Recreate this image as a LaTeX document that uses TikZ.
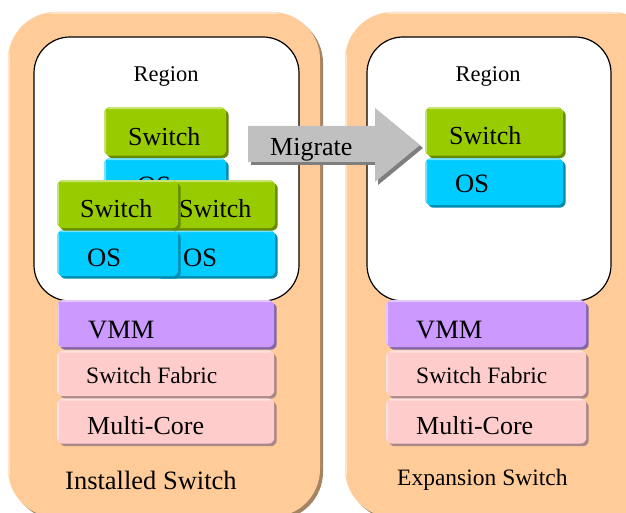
\documentclass[tikz,border=0pt]{standalone}
\usepackage{fontspec}
\setmainfont{Liberation Serif}
\newfontfamily\tmsfont{Liberation Serif}
\usetikzlibrary{shadows}

\definecolor{casefill}{HTML}{FFCC99}
\definecolor{caseshade}{HTML}{A58462}
\definecolor{vmmfill}{HTML}{CC99FF}
\definecolor{vmmshade}{HTML}{8366A8}
\definecolor{hwfill}{HTML}{FFCCCC}
\definecolor{hwshade}{HTML}{A88888}
\definecolor{swfill}{HTML}{99CC00}
\definecolor{swshade}{HTML}{678A00}
\definecolor{osfill}{HTML}{00CCFF}
\definecolor{osshade}{HTML}{008CB0}
\definecolor{arrowfill}{HTML}{C0C0C0}
\definecolor{arrowshade}{HTML}{7E7E7E}

\newcommand\fsz[1]{\tmsfont\fontsize{#1}{#1}\selectfont}

\tikzset{
  bevel/.style 2 args={path picture={
      \fill[#1!55!white] (path picture bounding box.north west) rectangle
        ([yshift=-#2]path picture bounding box.north east);
      \fill[#1!55!white] (path picture bounding box.north west) rectangle
        ([xshift=#2]path picture bounding box.south west);
    }},
  slab/.style 2 args={fill=#1, rounded corners=6pt, inner sep=0pt,
    anchor=north west,
    drop shadow={shadow xshift=2.5pt, shadow yshift=-2.5pt, opacity=1, fill=#2},
    bevel={#1}{2pt}},
  swbox/.style={slab={swfill}{swshade}},
  osbox/.style={slab={osfill}{osshade}},
  vmmbox/.style={slab={vmmfill}{vmmshade}},
  hwbox/.style={slab={hwfill}{hwshade}},
  region/.style={draw=black, line width=1.2pt, fill=white, rounded corners=36pt},
  casebox/.style={fill=casefill, rounded corners=48pt,
    drop shadow={shadow xshift=3pt, shadow yshift=-3pt, opacity=1, fill=caseshade},
    bevel={casefill}{2pt}},
  lbl/.style={inner sep=0pt, anchor=base west, text=black},
}

\begin{document}
\begin{tikzpicture}[x=1pt,y=-1pt]
  \useasboundingbox (0,0) rectangle (626,513);
  \clip (0,0) rectangle (626,513);
  \fill[white] (0,0) rectangle (626,513);

  % the two switch cases
  \path[casebox] (8,12) rectangle (320,517);
  \path[casebox] (345,12) rectangle (660,517);

  % regions
  \path[region] (34,37) rectangle (299,301);
  \path[region] (367,37) rectangle (611,301);
  \node[inner sep=0pt, anchor=base, font=\fsz{22.5}] (regL) at (166,82) {Region};
  \node[inner sep=0pt, anchor=base, font=\fsz{22.5}] (regR) at (488,82) {Region};

  % installed switch: virtual switch stacks
  \node[osbox, minimum width=122pt, minimum height=47pt] (osA) at (104,158) {};
  \node[lbl, font=\fsz{26.5}] (osAt) at (137,194) {OS};
  \node[swbox, minimum width=122pt, minimum height=48.5pt] (swA) at (104,107) {};
  \node[lbl, font=\fsz{26}] (swAt) at (128,146) {Switch};

  \node[osbox, minimum width=121pt, minimum height=46pt] (osB) at (154,230) {};
  \node[lbl, font=\fsz{26.5}] (osBt) at (183,266) {OS};
  \node[swbox, minimum width=121pt, minimum height=48pt] (swB) at (154,180) {};
  \node[lbl, font=\fsz{26}] (swBt) at (179,218) {Switch};

  \node[osbox, minimum width=121pt, minimum height=46pt] (osC) at (57,230) {};
  \node[lbl, font=\fsz{26.5}] (osCt) at (87,266) {OS};
  \node[swbox, minimum width=121pt, minimum height=48pt] (swC) at (57,180) {};
  \node[lbl, font=\fsz{26}] (swCt) at (80,218) {Switch};

  % expansion switch: migrated stack
  \node[osbox, minimum width=138pt, minimum height=47pt] (osD) at (425,158) {};
  \node[lbl, font=\fsz{26.5}] (osDt) at (455,193) {OS};
  \node[swbox, minimum width=138pt, minimum height=48.5pt] (swD) at (425,107) {};
  \node[lbl, font=\fsz{26}] (swDt) at (449,145) {Switch};

  % lower layers, installed switch
  \node[vmmbox, minimum width=217pt, minimum height=47pt] (vmmL) at (57,300) {};
  \node[lbl, font=\fsz{26.5}] (vmmLt) at (88,338) {VMM};
  \node[hwbox, minimum width=217pt, minimum height=45.5pt] (fabL) at (57,350.5) {};
  \node[lbl, font=\fsz{23.5}] (fabLt) at (86,383) {Switch Fabric};
  \node[hwbox, minimum width=217pt, minimum height=45pt] (mcL) at (57,398.5) {};
  \node[lbl, font=\fsz{26}] (mcLt) at (87,434) {Multi-Core};

  % lower layers, expansion switch
  \node[vmmbox, minimum width=200pt, minimum height=47pt] (vmmR) at (386,300) {};
  \node[lbl, font=\fsz{26.5}] (vmmRt) at (416,338) {VMM};
  \node[hwbox, minimum width=200pt, minimum height=45.5pt] (fabR) at (386,350.5) {};
  \node[lbl, font=\fsz{23.5}] (fabRt) at (416,383) {Switch Fabric};
  \node[hwbox, minimum width=200pt, minimum height=45pt] (mcR) at (386,398.5) {};
  \node[lbl, font=\fsz{26}] (mcRt) at (416,434) {Multi-Core};

  % case captions
  \node[lbl, font=\fsz{26.5}] (capL) at (65,489) {Installed Switch};
  \node[lbl, font=\fsz{23.5}] (capR) at (397,485) {Expansion Switch};

  % migrate arrow
  \fill[arrowfill, drop shadow={shadow xshift=3pt, shadow yshift=-3pt, opacity=1, fill=arrowshade}]
    (248,126) -- (375,126) -- (375,108) -- (420,145) -- (375,182) -- (375,162) -- (248,162) -- cycle;
  \node[lbl, font=\fsz{26}] (migt) at (270,156) {Migrate};
\end{tikzpicture}
\end{document}
